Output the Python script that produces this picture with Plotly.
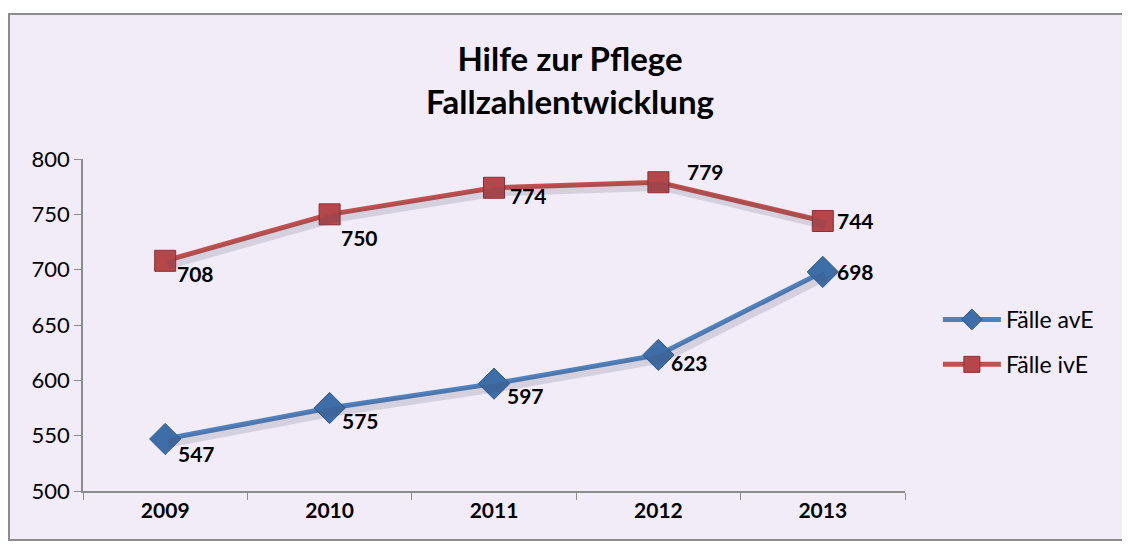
import plotly.graph_objects as go

years = ["2009", "2010", "2011", "2012", "2013"]
faelle_ave = [547, 575, 597, 623, 698]
faelle_ive = [708, 750, 774, 779, 744]
series_names = ["Fälle avE", "Fälle ivE"]
title_lines = ["Hilfe zur Pflege", "Fallzahlentwicklung"]

# label offsets (pixels) per point
ave_shift = [(31, -15), (31, -12), (31, -12), (31, -8), (33, 0)]
ive_shift = [(30, -13), (30, -23), (34, -8), (47, 11), (33, 0)]

# page body has an 8px margin; the figure is sized to fit the window
W, H = 1122, 537
L, R, T, B = 75, 225, 151, 54

BLUE = "#4F81BD"
RED = "#C0504D"
FONT = "Lato"

pw = W - L - R
ph = H - T - B

Y_RANGE = [500, 800]
# shadow axes: shifted a few pixels down/right
sh_dy = 4 * (Y_RANGE[1] - Y_RANGE[0]) / ph
sh_dx = 3 * 5 / pw

fig = go.Figure()

for vals in (faelle_ave, faelle_ive):
    fig.add_trace(go.Scatter(
        x=years, y=vals, mode="lines", xaxis="x2", yaxis="y2",
        line=dict(color="rgba(70,60,90,0.16)", width=9),
        showlegend=False, hoverinfo="skip",
    ))

fig.add_trace(go.Scatter(
    x=years, y=faelle_ave, name=series_names[0], mode="lines+markers",
    legendgroup="a",
    line=dict(color=BLUE, width=5),
    marker=dict(symbol="diamond", size=24, color="#3E6EA8",
                line=dict(color="#2E5A8E", width=1)),
))
fig.add_trace(go.Scatter(
    x=years, y=faelle_ive, name=series_names[1], mode="lines+markers",
    legendgroup="b",
    line=dict(color=RED, width=5),
    marker=dict(symbol="square", size=21, color="#B5474A",
                line=dict(color="#8C2F31", width=1)),
))

annotations = []
for vals, shifts in ((faelle_ave, ave_shift), (faelle_ive, ive_shift)):
    for i, (v, (dx, dy)) in enumerate(zip(vals, shifts)):
        annotations.append(dict(
            x=i, y=v, xref="x", yref="y", text=f"<b>{v}</b>", showarrow=False,
            xshift=dx, yshift=dy, font=dict(family=FONT, size=21, color="black"),
        ))

fig.update_layout(
    width=W, height=H,
    margin=dict(l=L, r=R, t=T, b=B, autoexpand=False),
    paper_bgcolor="white",
    plot_bgcolor="rgba(0,0,0,0)",
    font=dict(family=FONT, size=22, color="black"),
    title=dict(
        text="<b>" + "<br>".join(title_lines) + "</b>",
        x=562 / W, xanchor="center", xref="container",
        y=1 - 63 / H, yanchor="middle", yref="container",
        font=dict(family=FONT, size=33, color="black"),
    ),
    showlegend=True,
    legend=dict(
        x=1.04, y=(483 - 334) / ph, xanchor="left", yanchor="middle",
        bgcolor="rgba(0,0,0,0)", font=dict(family=FONT, size=23),
        traceorder="grouped", tracegroupgap=12, itemwidth=58,
    ),
    annotations=annotations,
    shapes=[dict(
        type="rect", xref="paper", yref="paper", layer="below",
        x0=(1 - L) / pw, x1=(1117 - L) / pw,
        y0=-(532 - (H - B)) / ph, y1=((H - B) - 6) / ph,
        fillcolor="#F1ECF8", line=dict(color="#8C8C8C", width=2),
    )],
    xaxis2=dict(type="category", overlaying="x", range=[-0.5 - sh_dx, 4.5 - sh_dx],
                visible=False, showgrid=False, zeroline=False),
    yaxis2=dict(overlaying="y", range=[Y_RANGE[0] + sh_dy, Y_RANGE[1] + sh_dy],
                visible=False, showgrid=False, zeroline=False),
)

fig.update_xaxes(
    selector=dict(anchor="y"),
)
fig.layout.xaxis.update(
    type="category", range=[-0.5, 4.5],
    showline=True, linecolor="#8C8C8C", linewidth=1.5,
    ticks="outside", tickson="boundaries", ticklen=7, tickcolor="#8C8C8C",
    showgrid=False, zeroline=False,
    tickfont=dict(family=FONT, size=21, color="black"),
    tickprefix="<b>", ticksuffix="</b>",
)
fig.layout.yaxis.update(
    range=Y_RANGE, dtick=50,
    showline=True, linecolor="#8C8C8C", linewidth=1.5,
    ticks="outside", ticklen=7, tickcolor="#8C8C8C",
    showgrid=False, zeroline=False,
    tickfont=dict(family=FONT, size=22, color="black"),
)

fig.write_html("out.html")
